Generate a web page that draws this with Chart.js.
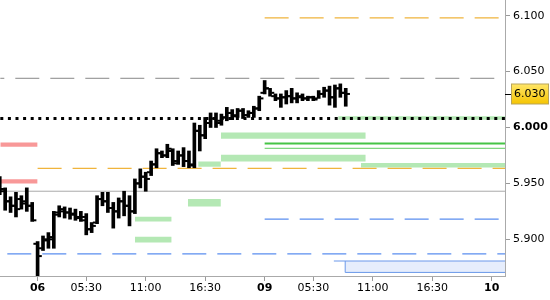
<!DOCTYPE html>
<html>
<head>
<meta charset="utf-8">
<script src="https://cdn.jsdelivr.net/npm/chart.js@4/dist/chart.umd.min.js"></script>
<style>
  body { margin: 0; background: #fff; }
  #wrap { width: 550px; height: 300px; position: relative; }
</style>
</head>
<body>
<div id="wrap"><canvas id="priceChart"></canvas></div>
<script>
// Axis ticks (x in 30-minute bar slots, 0 = first bar of the 06th)
const xTickPos = [0, 9, 20, 31, 42, 51, 62, 73, 84];
const xTickLabels = ['06', '05:30', '11:00', '16:30', '09', '05:30', '11:00', '16:30', '10'];
const dayLabels = ['06', '09', '10'];
const yTicks = [5.900, 5.950, 6.000, 6.050, 6.100];

// OHLC bars, first bar sits at slot -7
const firstBar = -7;
const opens  = [5.949, 5.943, 5.934, 5.930, 5.936, 5.934, 5.930, 5.896, 5.892, 5.899, 5.900, 5.924, 5.925, 5.924, 5.923, 5.920,
                5.920, 5.909, 5.915, 5.936, 5.934, 5.928, 5.925, 5.934, 5.930, 5.925, 5.950, 5.956, 5.960, 5.967, 5.977, 5.975,
                5.979, 5.970, 5.975, 5.970, 5.966, 5.997, 5.993, 6.004, 6.008, 6.006, 6.009, 6.013, 6.011, 6.015, 6.011, 6.013,
                6.017, 6.031, 6.035, 6.028, 6.026, 6.027, 6.028, 6.026, 6.028, 6.026, 6.027, 6.026, 6.030, 6.033, 6.027, 6.035, 6.031];
const highs  = [5.956, 5.946, 5.938, 5.942, 5.939, 5.946, 5.933, 5.898, 5.903, 5.906, 5.925, 5.930, 5.929, 5.928, 5.927, 5.925,
                5.923, 5.915, 5.939, 5.942, 5.942, 5.933, 5.937, 5.943, 5.939, 5.954, 5.963, 5.960, 5.970, 5.981, 5.979, 5.985,
                5.981, 5.979, 5.982, 5.979, 6.004, 6.002, 6.009, 6.013, 6.013, 6.012, 6.018, 6.016, 6.017, 6.017, 6.015, 6.019,
                6.028, 6.042, 6.035, 6.030, 6.030, 6.033, 6.035, 6.031, 6.030, 6.028, 6.028, 6.033, 6.036, 6.037, 6.038, 6.039, 6.035];
const lows   = [5.940, 5.926, 5.924, 5.920, 5.927, 5.925, 5.916, 5.863, 5.890, 5.892, 5.892, 5.920, 5.919, 5.918, 5.917, 5.916,
                5.904, 5.906, 5.914, 5.930, 5.924, 5.910, 5.919, 5.921, 5.912, 5.923, 5.946, 5.943, 5.957, 5.964, 5.973, 5.973,
                5.966, 5.967, 5.965, 5.964, 5.964, 5.979, 5.990, 6.000, 6.000, 6.002, 6.006, 6.007, 6.009, 6.008, 6.009, 6.009,
                6.015, 6.030, 6.028, 6.024, 6.018, 6.021, 6.022, 6.022, 6.024, 6.024, 6.024, 6.026, 6.027, 6.020, 6.018, 6.027, 6.019];
const closes = [5.945, 5.934, 5.930, 5.927, 5.932, 5.930, 5.917, 5.885, 5.900, 5.902, 5.922, 5.927, 5.924, 5.922, 5.919, 5.917,
                5.909, 5.912, 5.936, 5.934, 5.928, 5.925, 5.934, 5.930, 5.925, 5.950, 5.956, 5.954, 5.967, 5.977, 5.975, 5.981,
                5.968, 5.975, 5.970, 5.967, 5.997, 5.993, 6.004, 6.008, 6.004, 6.009, 6.013, 6.010, 6.015, 6.011, 6.013, 6.017,
                6.026, 6.035, 6.031, 6.026, 6.027, 6.028, 6.026, 6.027, 6.026, 6.027, 6.025, 6.030, 6.033, 6.027, 6.035, 6.031, 6.030];

// Horizontal levels: [from slot, price]; lines run to the right edge
const greyDashedLevel = [-6.9, 6.044];
const dottedLevel = [-6.9, 6.008];
const orangeLevels = [[42, 6.098], [0, 5.9635]];
const blueLevels = [[42, 5.918], [-6.9, 5.887]];
const greySolidLevel = [-6.9, 5.943];
const greenLevels = [[42, 5.9856], [42, 5.9814]];

// Zones: [from slot, to slot, top, bottom]; null end = right edge
const greenZones = [
  [18.0, 24.8, 5.9201, 5.9160],
  [18.0, 24.8, 5.9023, 5.8972],
  [27.8, 33.9, 5.9360, 5.9294],
  [29.7, 33.9, 5.9696, 5.9649],
  [33.9, 60.7, 5.9955, 5.9899],
  [33.9, 60.7, 5.9756, 5.9696],
  [59.8, null, 5.9682, 5.9642],
  [55.6, null, 6.0100, 6.0069]
];
const redZones = [
  [-6.9, 0, 5.9866, 5.9827],
  [-6.9, 0, 5.9538, 5.9499]
];
const blueBoxLine = [54.8, 5.8806];
const blueBox = [56.9, 5.8806, 5.8704];

const X_MIN = -6.955;
const X_MAX = 86.46;
const FONT = 'DejaVu Sans';

function hLine(from, price, color, width, dash, offset, order, to) {
    return {
        type: 'line',
        data: [{ x: from, y: price }, { x: to == null ? X_MAX : to, y: price }],
        borderColor: color,
        borderWidth: width,
        borderDash: dash || [],
        borderDashOffset: offset || 0,
        pointRadius: 0,
        fill: false,
        clip: false,
        order: order
    };
}

function zone(z, color) {
    return {
        type: 'line',
        data: [{ x: z[0], y: z[2] }, { x: z[1] == null ? X_MAX : z[1], y: z[2] }],
        borderWidth: 0,
        pointRadius: 0,
        backgroundColor: color,
        fill: { value: z[3] },
        order: 10
    };
}

// no extra padding around the axes, the plot runs to the canvas edges
function noPadding(scale) {
    scale.paddingTop = 0;
    scale.paddingBottom = 0;
    scale.paddingLeft = 0;
    scale.paddingRight = 0;
}

const datasets = [];

greenZones.forEach(z => datasets.push(zone(z, '#b4e8b4')));
redZones.forEach(z => datasets.push(zone(z, '#f89898')));

// blue box at the bottom right
datasets.push(zone([blueBox[0], null, blueBox[1], blueBox[2]], '#e6edfc'));
datasets.push(hLine(blueBoxLine[0], blueBoxLine[1], '#6a98ea', 1, null, 0, 6));
datasets.push(hLine(blueBox[0], blueBox[2], '#6a98ea', 1, null, 0, 6));
datasets.push({
    type: 'line',
    data: [{ x: blueBox[0], y: blueBox[2] }, { x: blueBox[0], y: blueBox[1] }],
    borderColor: '#6a98ea', borderWidth: 1, pointRadius: 0, fill: false, order: 6
});

datasets.push(hLine(greyDashedLevel[0], greyDashedLevel[1], '#888888', 1, [24, 11], 20, 5));
datasets.push(hLine(greySolidLevel[0], greySolidLevel[1], '#aaaaaa', 1, null, 0, 5));
orangeLevels.forEach(l => datasets.push(hLine(l[0], l[1], '#f0b43c', 1.2, [24, 11], 0, 5)));
datasets.push(hLine(blueLevels[0][0], blueLevels[0][1], '#5b8ef0', 1.2, [24, 11], 0, 5));
datasets.push(hLine(blueLevels[1][0], blueLevels[1][1], '#5b8ef0', 1.2, [24, 11], 28, 5));
datasets.push(hLine(greenLevels[0][0], greenLevels[0][1], '#46c446', 2, null, 0, 5));
datasets.push(hLine(greenLevels[1][0], greenLevels[1][1], '#5ccc5c', 1, null, 0, 5));
datasets.push(hLine(dottedLevel[0], dottedLevel[1], '#000000', 3, [3, 4.6], 0, 3));

// OHLC: high-low as floating bars, open/close as small ticks
datasets.push({
    type: 'bar',
    data: highs.map((h, i) => ({ x: firstBar + i, y: [lows[i], h] })),
    backgroundColor: '#000000',
    borderWidth: 0,
    barThickness: 3,
    order: 1
});
datasets.push({
    type: 'line',
    showLine: false,
    data: opens.map((o, i) => ({ x: firstBar + i - 0.5, y: o })),
    pointStyle: 'line',
    pointRadius: 1.5,
    pointBorderWidth: 2,
    pointBorderColor: '#000000',
    order: 0
});
datasets.push({
    type: 'line',
    showLine: false,
    data: closes.map((c, i) => ({ x: firstBar + i + 0.5, y: c })),
    pointStyle: 'line',
    pointRadius: 1.5,
    pointBorderWidth: 2,
    pointBorderColor: '#000000',
    order: 0
});

// Last price marker on the right axis
const lastPriceTag = {
    id: 'lastPriceTag',
    afterDraw(chart) {
        const ctx = chart.ctx;
        const yScale = chart.scales.y;
        const last = closes[closes.length - 1];
        const y = Math.round(yScale.getPixelForValue(last)) + 0.5;
        const x0 = chart.chartArea.right;
        ctx.save();
        ctx.strokeStyle = '#000';
        ctx.lineWidth = 1;
        ctx.beginPath();
        ctx.moveTo(x0, y);
        ctx.lineTo(x0 + 6, y);
        ctx.stroke();
        const grad = ctx.createLinearGradient(0, y - 10, 0, y + 10);
        grad.addColorStop(0, '#ffe566');
        grad.addColorStop(1, '#f5c400');
        ctx.fillStyle = grad;
        ctx.fillRect(x0 + 6.5, y - 10.5, 37, 20);
        ctx.strokeStyle = '#b9a55a';
        ctx.strokeRect(x0 + 6.5, y - 10.5, 37, 20);
        ctx.fillStyle = '#000';
        ctx.font = '11px "' + FONT + '"';
        ctx.textBaseline = 'middle';
        ctx.textAlign = 'left';
        ctx.fillText(last.toFixed(3), x0 + 9, y);
        ctx.restore();
    }
};

new Chart(document.getElementById('priceChart'), {
    type: 'bar',
    data: { datasets: datasets },
    options: {
        responsive: true,
        maintainAspectRatio: false,
        animation: false,
        events: [],
        layout: { padding: 0, autoPadding: false },
        plugins: {
            legend: { display: false },
            tooltip: { enabled: false }
        },
        scales: {
            x: {
                type: 'linear',
                min: X_MIN,
                max: X_MAX,
                offset: false,
                afterBuildTicks: function(scale) {
                    scale.ticks = xTickPos.map(v => ({ value: v }));
                },
                afterFit: function(scale) {
                    scale.height = 24;
                    noPadding(scale);
                },
                grid: {
                    drawOnChartArea: false,
                    offset: false,
                    color: '#999999',
                    tickLength: 5
                },
                border: { color: '#aaaaaa' },
                ticks: {
                    autoSkip: false,
                    maxRotation: 0,
                    padding: 1,
                    color: '#000',
                    callback: function(value, index) { return xTickLabels[index]; },
                    font: function(ctx) {
                        const bold = ctx.tick && dayLabels.includes(ctx.tick.label);
                        return { family: FONT, size: 11, weight: bold ? 'bold' : 'normal' };
                    }
                }
            },
            y: {
                type: 'linear',
                position: 'right',
                min: 5.8672,
                max: 6.1140,
                afterBuildTicks: function(scale) {
                    scale.ticks = yTicks.map(v => ({ value: v }));
                },
                afterFit: function(scale) {
                    scale.width = 45;
                    noPadding(scale);
                },
                grid: {
                    drawOnChartArea: false,
                    color: '#999999',
                    tickLength: 5
                },
                border: { color: '#aaaaaa' },
                ticks: {
                    padding: 3,
                    color: '#000',
                    callback: function(value) { return value.toFixed(3); },
                    font: function(ctx) {
                        const bold = ctx.tick && Math.abs(ctx.tick.value - 6) < 1e-9;
                        return { family: FONT, size: 11, weight: bold ? 'bold' : 'normal' };
                    }
                }
            }
        }
    },
    plugins: [lastPriceTag]
});
</script>
</body>
</html>
